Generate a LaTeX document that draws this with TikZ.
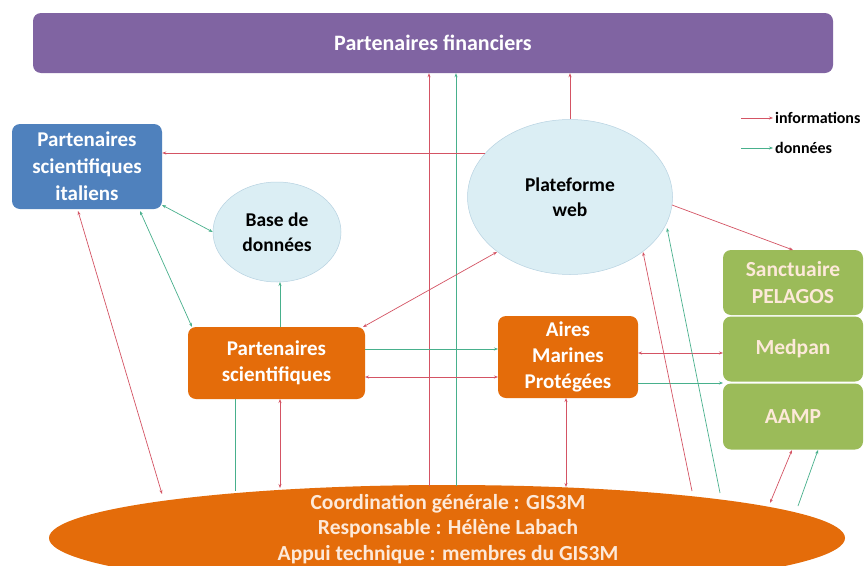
\documentclass[tikz,border=0pt]{standalone}
\usepackage{fontspec}
\setmainfont{Carlito}
\usetikzlibrary{arrows.meta,shapes.geometric}
\definecolor{finpurple}{RGB}{128,100,162}
\definecolor{itablue}{RGB}{79,129,189}
\definecolor{orng}{RGB}{228,108,10}
\definecolor{grn}{RGB}{155,187,89}
\definecolor{lblue}{RGB}{219,238,244}
\definecolor{lbord}{RGB}{183,210,225}
\definecolor{cream}{RGB}{253,233,217}
\definecolor{infored}{RGB}{212,84,100}
\definecolor{datagreen}{RGB}{72,176,140}
\tikzset{
  box/.style={rounded corners=8pt, draw=none, text=white, font=\bfseries\fontsize{21}{26}\selectfont, align=center, inner sep=0pt},
  oval/.style={ellipse, fill=lblue, draw=lbord, line width=0.5pt, font=\bfseries\fontsize{19.5}{25}\selectfont, align=center, inner sep=0pt},
  info/.style={draw=infored, line width=0.7pt, arrows={-Stealth[length=4pt,width=3pt]}},
  data/.style={draw=datagreen, line width=0.7pt, arrows={-Stealth[length=4pt,width=3pt]}},
  both/.style={arrows={Stealth[length=4pt,width=3pt]-Stealth[length=4pt,width=3pt]}},
  plain/.style={arrows=-},
}
\begin{document}
\begin{tikzpicture}[x=1pt,y=-1pt]
\clip (0,0) rectangle (867,565);
\fill[white] (0,0) rectangle (867,565);
% nodes
\node[box, fill=finpurple, minimum width=800pt, minimum height=60pt, font=\bfseries\fontsize{22}{24}\selectfont] (fin) at (433,43) {Partenaires financiers};
\node[box, fill=itablue, minimum width=150pt, minimum height=85pt, font=\bfseries\fontsize{21}{27}\selectfont] (ita) at (87,166.5) {Partenaires\\scientifiques\\italiens};
\node[oval, minimum width=128pt, minimum height=100pt] (bdd) at (277,232) {Base de\\données};
\node[oval, minimum width=205pt, minimum height=155pt] (web) at (570,197) {Plateforme\\web};
\node[box, fill=orng, minimum width=177pt, minimum height=72pt] (psci) at (276.5,363) {Partenaires\\scientifiques};
\node[box, fill=orng, minimum width=140pt, minimum height=82pt] (amp) at (568,357) {Aires\\Marines\\Protégées};
\node[box, fill=grn, minimum width=140pt, minimum height=65pt, text=cream, font=\bfseries\fontsize{21.5}{27}\selectfont] (san) at (793,282.5) {Sanctuaire\\PELAGOS};
\node[box, fill=grn, minimum width=140pt, minimum height=65pt, text=cream, font=\bfseries\fontsize{21.5}{27}\selectfont] (med) at (793,349) {Medpan};
\node[box, fill=grn, minimum width=140pt, minimum height=66pt, text=cream, font=\bfseries\fontsize{21.5}{27}\selectfont] (aamp) at (793,416.5) {AAMP};
\node[ellipse, fill=orng, minimum width=796pt, minimum height=106pt, inner sep=0pt] (coord) at (447,538) {};
\node[text=cream, font=\bfseries\fontsize{21.5}{25.5}\selectfont, align=center] (coordtxt) at (448,529) {Coordination générale : GIS3M\\Responsable : Hélène Labach\\Appui technique : membres du GIS3M};
% connector end points
\coordinate (c1) at (429,486);
\coordinate (c2) at (456,486);
\coordinate (w1) at (485,153);
\coordinate (i1) at (162,205);
\coordinate (i2) at (140,211);
\coordinate (p1) at (192,327);
\coordinate (p2) at (280,327);
\coordinate (b1) at (280,282);
\coordinate (w2) at (497,252);
\coordinate (p3) at (363,327);
\coordinate (i3) at (78,211);
\coordinate (c3) at (162,494);
\coordinate (p4) at (235,399);
\coordinate (c4) at (235,491);
\coordinate (p5) at (280,399);
\coordinate (c5) at (280,488);
\coordinate (p6) at (365,349);
\coordinate (a6) at (498,349);
\coordinate (p7) at (365,377);
\coordinate (a7) at (498,377);
\coordinate (a8) at (638,353);
\coordinate (m8) at (723,353);
\coordinate (a9) at (638,383);
\coordinate (m9) at (723,383);
\coordinate (a10) at (566,398);
\coordinate (c10) at (566,487);
\coordinate (w11) at (672,205);
\coordinate (s11) at (793,250);
\coordinate (c12) at (692,491);
\coordinate (w12) at (643,252);
\coordinate (c13) at (720,493);
\coordinate (w13) at (667,228);
\coordinate (c14) at (770,503);
\coordinate (m14) at (792,450);
\coordinate (c15) at (798,506);
\coordinate (m15) at (818,450);
% connectors
\draw[info] (c1) -- (fin.south -| c1);
\draw[data] (c2) -- (fin.south -| c2);
\draw[info] (web.north) -- (fin.south -| web.north);
\draw[info] (w1) -- (ita.east |- w1);
\draw[data, both] (i1) -- (bdd.west);
\draw[data, both] (i2) -- (p1);
\draw[data] (p2) -- (b1);
\draw[info, both] (w2) -- (p3);
\draw[info, both] (i3) -- (c3);
\draw[data, plain] (p4) -- (c4);
\draw[info, both] (p5) -- (c5);
\draw[data] (p6) -- (a6);
\draw[info, both] (p7) -- (a7);
\draw[info, both] (a8) -- (m8);
\draw[data] (a9) -- (m9);
\draw[info, both] (a10) -- (c10);
\draw[info] (w11) -- (s11);
\draw[info] (c12) -- (w12);
\draw[data] (c13) -- (w13);
\draw[info, both] (c14) -- (m14);
\draw[data] (c15) -- (m15);
% legend
\coordinate (l1) at (741,118);
\coordinate (l2) at (741,148);
\node[anchor=west, inner sep=2pt, font=\bfseries\fontsize{16}{18}\selectfont] (li) at (773,118) {informations};
\node[anchor=west, inner sep=2pt, font=\bfseries\fontsize{16}{18}\selectfont] (ld) at (773,148) {données};
\draw[info, line width=0.5pt] (l1) -- (li.west);
\draw[data, line width=0.5pt] (l2) -- (ld.west);
\end{tikzpicture}
\end{document}
